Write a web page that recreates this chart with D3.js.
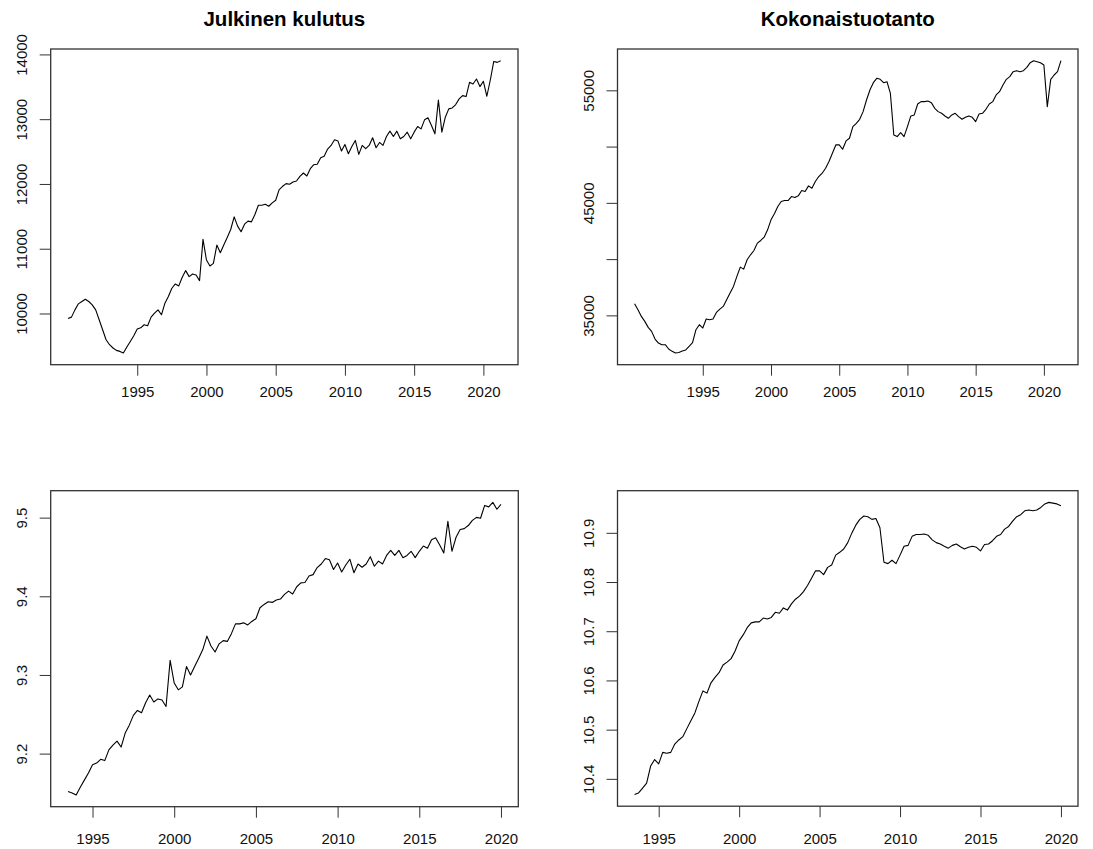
<!DOCTYPE html>
<html>
<head>
<meta charset="utf-8">
<script src="https://cdn.jsdelivr.net/npm/d3@7"></script>
<style>
  body { margin: 0; background: #fff; }
  svg { display: block; font-family: 'Liberation Sans', Arial, sans-serif; }
</style>
</head>
<body>
<svg id="svg"></svg>
<script>
// quarterly series, 1990Q1 - 2021Q2
const startTop = 1990
const julkinen = [
  9923, 9944, 10056, 10149,
  10185, 10220, 10185, 10133,
  10056, 9903, 9749, 9595,
  9518, 9467, 9431, 9415,
  9390, 9482, 9569, 9656,
  9759, 9779, 9826, 9810,
  9944, 10005, 10056, 9980,
  10159, 10262, 10390, 10456,
  10426, 10559, 10662, 10569,
  10610, 10595, 10508, 11144,
  10826, 10733, 10774, 11056,
  10938, 11056, 11174, 11297,
  11492, 11349, 11262, 11379,
  11426, 11415, 11528, 11672,
  11672, 11687, 11656, 11708,
  11749, 11913, 11964, 12005,
  11995, 12031, 12046, 12118,
  12169, 12123, 12236, 12297,
  12303, 12405, 12426, 12538,
  12595, 12682, 12662, 12508,
  12610, 12467, 12579, 12672,
  12456, 12595, 12544, 12595,
  12713, 12559, 12641, 12595,
  12733, 12815, 12733, 12815,
  12697, 12733, 12800, 12697,
  12800, 12887, 12851, 12990,
  13021, 12903, 12774, 13297,
  12800, 13031, 13159, 13174,
  13226, 13313, 13364, 13349,
  13569, 13544, 13621, 13503,
  13585, 13354, 13605, 13892,
  13877, 13903
]
const kokonais = [
  36036, 35503, 34911, 34467,
  33935, 33580, 32899, 32544,
  32396, 32396, 32012, 31805,
  31657, 31700, 31830, 31930,
  32250, 32570, 33728, 34172,
  33876, 34675, 34615, 34675,
  35266, 35562, 35799, 36391,
  36982, 37574, 38462, 39290,
  39112, 39941, 40385, 40769,
  41420, 41657, 41953, 42604,
  43491, 44024, 44675, 45118,
  45207, 45207, 45562, 45473,
  45621, 46095, 46006, 46509,
  46302, 46893, 47337, 47633,
  48077, 48669, 49408, 50148,
  50148, 49763, 50503, 50740,
  51775, 52071, 52426, 53107,
  54142, 55030, 55680, 56065,
  55976, 55680, 55769, 54734,
  51036, 50888, 51243, 50888,
  51775, 52722, 52811, 53787,
  53994, 53994, 54053, 53905,
  53402, 53107, 52959, 52722,
  52515, 52811, 52959, 52663,
  52426, 52604, 52722, 52604,
  52219, 52899, 52959, 53314,
  53787, 53994, 54586, 54882,
  55473, 55976, 56213, 56657,
  56746, 56657, 56746, 57041,
  57456, 57633, 57544, 57456,
  57249, 53550, 55976, 56361,
  56657, 57633
]

// log series, 1993Q3 - 2020Q1
const startBottom = 1993.5
const logJulkinen = [
  9.15176, 9.15006,
  9.14740, 9.15715, 9.16629, 9.17534,
  9.18595, 9.18799, 9.19279, 9.19116,
  9.20472, 9.21084, 9.21592, 9.20834,
  9.22611, 9.23620, 9.24860, 9.25493,
  9.25206, 9.26473, 9.27444, 9.26568,
  9.26955, 9.26814, 9.25989, 9.31866,
  9.28971, 9.28108, 9.28489, 9.31073,
  9.30000, 9.31073, 9.32134, 9.33229,
  9.34940, 9.33688, 9.32919, 9.33952,
  9.34364, 9.34268, 9.35253, 9.36495,
  9.36495, 9.36623, 9.36357, 9.36802,
  9.37152, 9.38538, 9.38966, 9.39308,
  9.39224, 9.39524, 9.39649, 9.40245,
  9.40664, 9.40286, 9.41214, 9.41711,
  9.41759, 9.42585, 9.42754, 9.43652,
  9.44105, 9.44793, 9.44636, 9.43412,
  9.44224, 9.43084, 9.43978, 9.44715,
  9.42995, 9.44105, 9.43699, 9.44105,
  9.45038, 9.43819, 9.44470, 9.44105,
  9.45195, 9.45837, 9.45195, 9.45837,
  9.44912, 9.45195, 9.45720, 9.44912,
  9.45720, 9.46397, 9.46117, 9.47193,
  9.47431, 9.46521, 9.45516, 9.49529,
  9.45720, 9.47508, 9.48486, 9.48600,
  9.48994, 9.49649, 9.50031, 9.49919,
  9.51554, 9.51369, 9.51936, 9.51066,
  9.51672
]
const logKokonais = [
  10.36816, 10.37130,
  10.38127, 10.39115, 10.42609, 10.43917,
  10.43047, 10.45378, 10.45205, 10.45378,
  10.47067, 10.47903, 10.48567, 10.50207,
  10.51818, 10.53407, 10.55742, 10.57872,
  10.57418, 10.59515, 10.60621, 10.61567,
  10.63152, 10.63722, 10.64431, 10.65970,
  10.68031, 10.69249, 10.70717, 10.71704,
  10.71901, 10.71901, 10.72683, 10.72488,
  10.72813, 10.73846, 10.73653, 10.74740,
  10.74294, 10.75563, 10.76505, 10.77128,
  10.78056, 10.79280, 10.80787, 10.82274,
  10.82274, 10.81503, 10.82979, 10.83447,
  10.85466, 10.86036, 10.86716, 10.88006,
  10.89937, 10.91563, 10.92738, 10.93427,
  10.93268, 10.92738, 10.92898, 10.91024,
  10.84029, 10.83738, 10.84434, 10.83738,
  10.85466, 10.87279, 10.87448, 10.89279,
  10.89663, 10.89663, 10.89772, 10.89498,
  10.88560, 10.88007, 10.87727, 10.87279,
  10.86886, 10.87448, 10.87727, 10.87167,
  10.86716, 10.87055, 10.87279, 10.87055,
  10.86320, 10.87614, 10.87727, 10.88396,
  10.89279, 10.89663, 10.90753, 10.91294,
  10.92365, 10.93268, 10.93691, 10.94477,
  10.94634, 10.94477, 10.94634, 10.95153,
  10.95878, 10.96185, 10.96031, 10.95878,
  10.95517
]

const yearTicks = [1995, 2000, 2005, 2010, 2015, 2020]
const ticksJulkinen = [10000, 11000, 12000, 13000, 14000]
const ticksKokonais = [35000, 40000, 45000, 50000, 55000]
const labelsKokonais = [35000, 45000, 55000]
const ticksLogJulkinen = [9.2, 9.3, 9.4, 9.5]
const ticksLogKokonais = [10.4, 10.5, 10.6, 10.7, 10.8, 10.9]

const w = 1093
const h = 849

let svg = d3.select('#svg')
  .attr('width', w).attr('height', h)

svg.append('rect').attr('width', w).attr('height', h).attr('fill', '#fff')

// R style range: data extent padded by 4% on both sides
const pad = ext => {
  let d = (ext[1] - ext[0]) * 0.04
  return [ext[0] - d, ext[1] + d]
}

const drawPanel = (p) => {
  let times = p.values.map((v, i) => p.start + i * 0.25)

  let x = d3.scaleLinear()
    .domain(pad(d3.extent(times)))
    .range([p.left, p.right])

  let y = d3.scaleLinear()
    .domain(pad(d3.extent(p.values)))
    .range([p.bottom, p.top])

  let g = svg.append('g')

  // x axis
  let xAxis = g.append('g')
    .attr('transform', `translate(0,${p.bottom})`)
    .call(d3.axisBottom(x).tickValues(yearTicks).tickSize(11).tickPadding(p.xPad).tickFormat(d3.format('d')))
  xAxis.select('.domain').remove()

  // y axis with rotated labels
  let yAxis = g.append('g')
    .attr('transform', `translate(${p.left},0)`)
    .call(d3.axisLeft(y).tickValues(p.ticks).tickSize(11)
      .tickFormat(d => (p.labels ? (p.labels.includes(d) ? d : '') : p.fmt(d))))
  yAxis.select('.domain').remove()
  yAxis.selectAll('text')
    .attr('x', null).attr('dy', null)
    .attr('text-anchor', 'middle')
    .attr('dominant-baseline', 'central')
    .attr('transform', 'translate(-29,0) rotate(-90)')

  g.selectAll('.tick line').attr('stroke', '#333').attr('stroke-width', 1)
  g.selectAll('.tick text').attr('fill', '#111').style('font-size', '15px')
    .style('font-family', "'Liberation Sans', Arial, sans-serif")

  let line = d3.line()
    .x((d, i) => x(times[i]))
    .y(d => y(d))

  g.append('path')
    .datum(p.values)
    .attr('d', line)
    .attr('fill', 'none')
    .attr('stroke', '#000')
    .attr('stroke-width', 1.1)
    .attr('stroke-linejoin', 'round')

  g.append('rect')
    .attr('x', p.left).attr('y', p.top)
    .attr('width', p.right - p.left).attr('height', p.bottom - p.top)
    .attr('fill', 'none').attr('stroke', '#333').attr('stroke-width', 1.3)

  if (p.title) {
    g.append('text')
      .attr('x', (p.left + p.right) / 2)
      .attr('y', 26)
      .attr('text-anchor', 'middle')
      .style('font-size', '20.5px')
      .style('font-weight', 'bold')
      .attr('fill', '#000')
      .text(p.title)
  }
}

drawPanel({ values: julkinen, start: startTop, ticks: ticksJulkinen, fmt: d3.format('d'),
  left: 50.7, right: 518, top: 49, bottom: 364.7, xPad: 11, title: 'Julkinen kulutus' })
drawPanel({ values: kokonais, start: startTop, ticks: ticksKokonais, labels: labelsKokonais, fmt: d3.format('d'),
  left: 617.5, right: 1078, top: 49, bottom: 364.7, xPad: 11, title: 'Kokonaistuotanto' })
drawPanel({ values: logJulkinen, start: startBottom, ticks: ticksLogJulkinen, fmt: d3.format('.1f'),
  left: 50.7, right: 518.3, top: 490.7, bottom: 806.7, xPad: 16 })
drawPanel({ values: logKokonais, start: startBottom, ticks: ticksLogKokonais, fmt: d3.format('.1f'),
  left: 617.5, right: 1078, top: 490.7, bottom: 806.2, xPad: 16 })
</script>
</body>
</html>
